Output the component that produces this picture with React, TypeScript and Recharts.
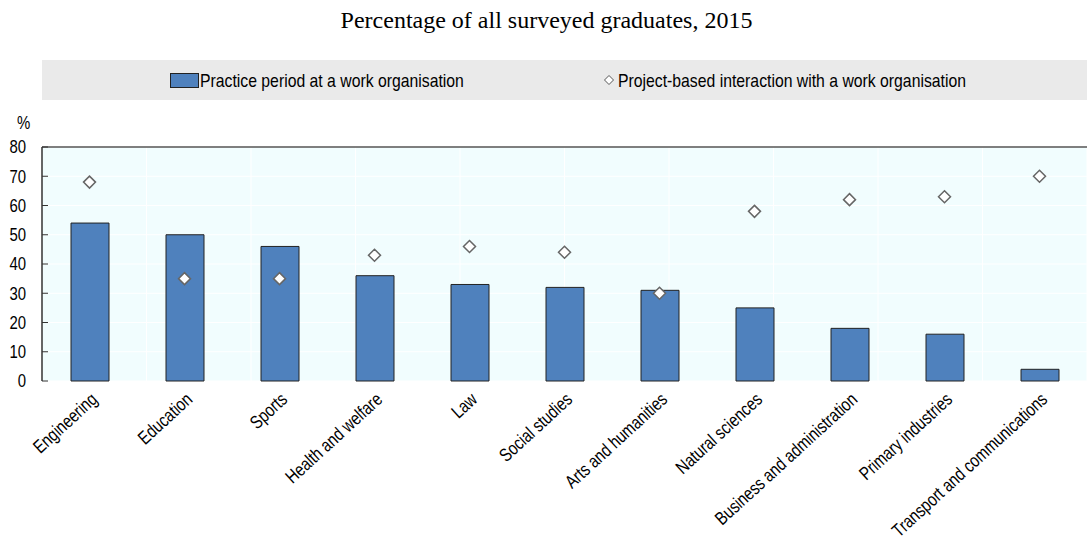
import React from "react";
import {
  ComposedChart,
  Bar,
  Line,
  XAxis,
  YAxis,
  CartesianGrid,
  ReferenceLine,
} from "recharts";

const fields = [
  "Engineering",
  "Education",
  "Sports",
  "Health and welfare",
  "Law",
  "Social studies",
  "Arts and humanities",
  "Natural sciences",
  "Business and administration",
  "Primary industries",
  "Transport and communications",
];
const practice = [54, 50, 46, 36, 33, 32, 31, 25, 18, 16, 4];
const project = [68, 35, 35, 43, 46, 44, 30, 58, 62, 63, 70];
const yTicks = [0, 10, 20, 30, 40, 50, 60, 70, 80];

const data = fields.map((field, i) => ({
  field,
  practice: practice[i],
  project: project[i],
}));
// category boundaries, for the white vertical grid and the small tick marks
const edges = [...fields.map((_, i) => i), fields.length];

// no narrow font installed: squeeze Liberation Sans sideways instead
const SANS = "'Liberation Sans', Arial, sans-serif";
const SQUEEZE = 0.83;
const Y_GAP = 16;

const CategoryTick = (props: any) => {
  const { x, y, payload } = props;
  return (
    <g transform={`translate(${x + 9},${y + 12}) rotate(-42.5) scale(0.8,1)`}>
      <text x={0} y={0} textAnchor="end" fontSize={18.5} fontFamily={SANS} fill="#000">
        {payload.value}
      </text>
    </g>
  );
};

const EdgeTick = (props: any) => {
  const { x, y } = props;
  return <line x1={x} x2={x} y1={y - 6} y2={y} stroke="#333" strokeWidth={1} />;
};

const ValueTick = (props: any) => {
  const { x, y, payload } = props;
  return (
    <g>
      <g transform={`translate(${x},${y}) scale(${SQUEEZE},1)`}>
        <text x={0} y={0} dy="0.36em" textAnchor="end" fontSize={18} fontFamily={SANS} fill="#000">
          {payload.value}
        </text>
      </g>
      <line x1={x + Y_GAP} x2={x + Y_GAP + 6} y1={y} y2={y} stroke="#333" />
    </g>
  );
};

const Diamond = (props: any) => {
  const { cx, cy } = props;
  if (cx == null || cy == null) return null;
  const r = 6;
  return (
    <polygon
      points={`${cx},${cy - r} ${cx + r},${cy} ${cx},${cy + r} ${cx - r},${cy}`}
      fill="#fff"
      stroke="#666"
      strokeWidth={1.5}
    />
  );
};

const squeezed: React.CSSProperties = {
  position: "absolute",
  whiteSpace: "nowrap",
  transform: `scaleX(${SQUEEZE})`,
  transformOrigin: "left top",
};

const App = () => {
  return (
    <div
      style={{
        position: "absolute",
        left: 0,
        top: 0,
        width: 1087,
        height: 546,
        background: "#fff",
      }}
    >
      <div
        style={{
          position: "absolute",
          top: 7,
          left: 3,
          width: 1087,
          textAlign: "center",
          fontFamily: "'Liberation Serif', 'Times New Roman', serif",
          fontSize: 24,
        }}
      >
        Percentage of all surveyed graduates, 2015
      </div>

      <div
        style={{
          position: "absolute",
          left: 42,
          top: 60,
          width: 1045,
          height: 40,
          background: "#EAEAEA",
          fontFamily: SANS,
          fontSize: 19,
          lineHeight: "19px",
          color: "#000",
        }}
      >
        <div
          style={{
            position: "absolute",
            left: 128,
            top: 13,
            width: 27,
            height: 13,
            background: "#4F81BD",
            border: "1px solid #222",
          }}
        />
        <div style={{ ...squeezed, left: 158, top: 11 }}>
          Practice period at a work organisation
        </div>
        <svg style={{ position: "absolute", left: 561, top: 14 }} width={12} height={12}>
          <polygon
            points="6,1.5 10.5,6 6,10.5 1.5,6"
            fill="#fff"
            stroke="#555"
            strokeWidth={1}
          />
        </svg>
        <div style={{ ...squeezed, left: 576, top: 11 }}>
          Project-based interaction with a work organisation
        </div>
      </div>

      <div
        style={{
          ...squeezed,
          left: 17,
          top: 114,
          fontFamily: SANS,
          fontSize: 18,
          lineHeight: "18px",
        }}
      >
        %
      </div>

      <ComposedChart
        width={1087}
        height={546}
        data={data}
        margin={{ top: 147, right: 0, bottom: 0, left: 0 }}
        style={{ position: "absolute", left: 0, top: 0 }}
      >
        <CartesianGrid xAxisId="edges" fill="#F1FDFE" stroke="#ffffff" strokeWidth={1} />
        <XAxis
          xAxisId="edges"
          type="number"
          domain={[0, fields.length]}
          ticks={edges}
          interval={0}
          height={0}
          tickSize={0}
          tickMargin={0}
          tickLine={false}
          tick={<EdgeTick />}
          axisLine={{ stroke: "#333", strokeWidth: 1.5 }}
        />
        <XAxis
          xAxisId="cat"
          dataKey="field"
          type="category"
          height={165}
          interval={0}
          axisLine={false}
          tickLine={false}
          tick={<CategoryTick />}
        />
        <YAxis
          width={42}
          domain={[0, 80]}
          ticks={yTicks}
          interval={0}
          tickLine={false}
          tickSize={0}
          tickMargin={Y_GAP}
          axisLine={{ stroke: "#333", strokeWidth: 1.5 }}
          tick={<ValueTick />}
        />
        <ReferenceLine xAxisId="cat" y={80} stroke="#555" strokeWidth={1.5} />
        <Bar
          xAxisId="cat"
          dataKey="practice"
          barSize={38}
          fill="#4F81BD"
          stroke="#222"
          strokeWidth={1}
          isAnimationActive={false}
        />
        <Line
          xAxisId="cat"
          dataKey="project"
          stroke="none"
          dot={<Diamond />}
          activeDot={false}
          isAnimationActive={false}
        />
      </ComposedChart>
    </div>
  );
};

export default App;
